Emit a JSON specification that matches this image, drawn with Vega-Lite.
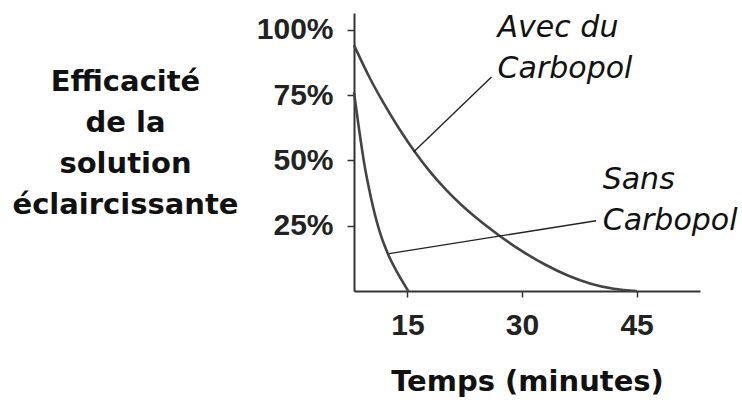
{
  "$schema": "https://vega.github.io/schema/vega-lite/v6.json",
  "width": 346,
  "height": 278,
  "autosize": {"type": "none"},
  "padding": {"left": 354, "top": 13, "right": 42, "bottom": 111},
  "background": "white",
  "config": {"view": {"stroke": null}},
  "datasets": {
    "curves": [
      {"serie": "Avec du Carbopol", "t": 8.0, "v": 94.1},
      {"serie": "Avec du Carbopol", "t": 10, "v": 81.9},
      {"serie": "Avec du Carbopol", "t": 12, "v": 71.3},
      {"serie": "Avec du Carbopol", "t": 14, "v": 61.7},
      {"serie": "Avec du Carbopol", "t": 16, "v": 53.1},
      {"serie": "Avec du Carbopol", "t": 18, "v": 45.5},
      {"serie": "Avec du Carbopol", "t": 20, "v": 38.9},
      {"serie": "Avec du Carbopol", "t": 22, "v": 33.1},
      {"serie": "Avec du Carbopol", "t": 24, "v": 28.0},
      {"serie": "Avec du Carbopol", "t": 27, "v": 21.25},
      {"serie": "Avec du Carbopol", "t": 30, "v": 15.25},
      {"serie": "Avec du Carbopol", "t": 33, "v": 10.15},
      {"serie": "Avec du Carbopol", "t": 36, "v": 5.95},
      {"serie": "Avec du Carbopol", "t": 39, "v": 2.8},
      {"serie": "Avec du Carbopol", "t": 42, "v": 0.85},
      {"serie": "Avec du Carbopol", "t": 45, "v": 0},
      {"serie": "Sans Carbopol", "t": 8.0, "v": 76.0},
      {"serie": "Sans Carbopol", "t": 8.68, "v": 61.6},
      {"serie": "Sans Carbopol", "t": 9.33, "v": 49.0},
      {"serie": "Sans Carbopol", "t": 10.2, "v": 36.0},
      {"serie": "Sans Carbopol", "t": 11.3, "v": 23.3},
      {"serie": "Sans Carbopol", "t": 12.4, "v": 14.5},
      {"serie": "Sans Carbopol", "t": 13.7, "v": 6.9},
      {"serie": "Sans Carbopol", "t": 15.1, "v": 0}
    ],
    "pointers": [
      {"serie": "Avec du Carbopol", "t": 15.8, "v": 53.2, "t2": 26.0, "v2": 81.9},
      {"serie": "Sans Carbopol", "t": 12.6, "v": 14.3, "t2": 39.7, "v2": 26.9}
    ],
    "labels": [
      {"txt": "Avec du", "t": 26.8, "v": 97.2},
      {"txt": "Carbopol", "t": 26.8, "v": 81.5},
      {"txt": "Sans", "t": 40.56, "v": 39.0},
      {"txt": "Carbopol", "t": 40.56, "v": 23.3}
    ]
  },
  "layer": [
    {
      "data": {"name": "curves"},
      "mark": {"type": "line", "interpolate": "monotone", "strokeWidth": 2.6, "color": "#444444"},
      "encoding": {
        "x": {
          "field": "t", "type": "quantitative",
          "scale": {"domain": [8, 53.3], "nice": false, "zero": false},
          "axis": {
            "values": [15, 30, 45],
            "grid": false,
            "domainColor": "#333333", "domainWidth": 2,
            "tickColor": "#333333", "tickWidth": 1.5, "tickSize": 6,
            "labelFont": "Liberation Sans", "labelFontWeight": "bold", "labelFontSize": 30,
            "labelColor": "#222222", "labelPadding": 13,
            "title": "Temps (minutes)",
            "titleFont": "DejaVu Sans", "titleFontWeight": "bold", "titleFontSize": 29,
            "titleColor": "#111111", "titleBaseline": "alphabetic", "titleY": 99
          }
        },
        "y": {
          "field": "v", "type": "quantitative",
          "scale": {"domain": [0, 106.4], "nice": false},
          "axis": {
            "values": [25, 50, 75, 100],
            "labelExpr": "datum.value + '%'",
            "grid": false,
            "domainColor": "#333333", "domainWidth": 2,
            "tickColor": "#333333", "tickWidth": 1.5, "tickSize": 7,
            "labelFont": "Liberation Sans", "labelFontWeight": "bold", "labelFontSize": 30,
            "labelColor": "#222222", "labelPadding": 14,
            "title": ["Efficacité", "de la", "solution", "éclaircissante"],
            "titleAngle": 0, "titleAlign": "center", "titleBaseline": "alphabetic",
            "titleX": -229, "titleY": 77, "titleLineHeight": 41,
            "titleFont": "DejaVu Sans", "titleFontWeight": "bold", "titleFontSize": 29,
            "titleColor": "#111111"
          }
        },
        "detail": {"field": "serie"}
      }
    },
    {
      "data": {"name": "pointers"},
      "mark": {"type": "rule", "color": "#222222", "strokeWidth": 1.4},
      "encoding": {
        "x": {"field": "t", "type": "quantitative"},
        "y": {"field": "v", "type": "quantitative"},
        "x2": {"field": "t2"},
        "y2": {"field": "v2"}
      }
    },
    {
      "data": {"name": "labels"},
      "mark": {"type": "text", "align": "left", "baseline": "alphabetic", "font": "DejaVu Sans", "fontStyle": "italic", "fontSize": 30, "color": "#111111"},
      "encoding": {
        "x": {"field": "t", "type": "quantitative"},
        "y": {"field": "v", "type": "quantitative"},
        "text": {"field": "txt"}
      }
    }
  ]
}
